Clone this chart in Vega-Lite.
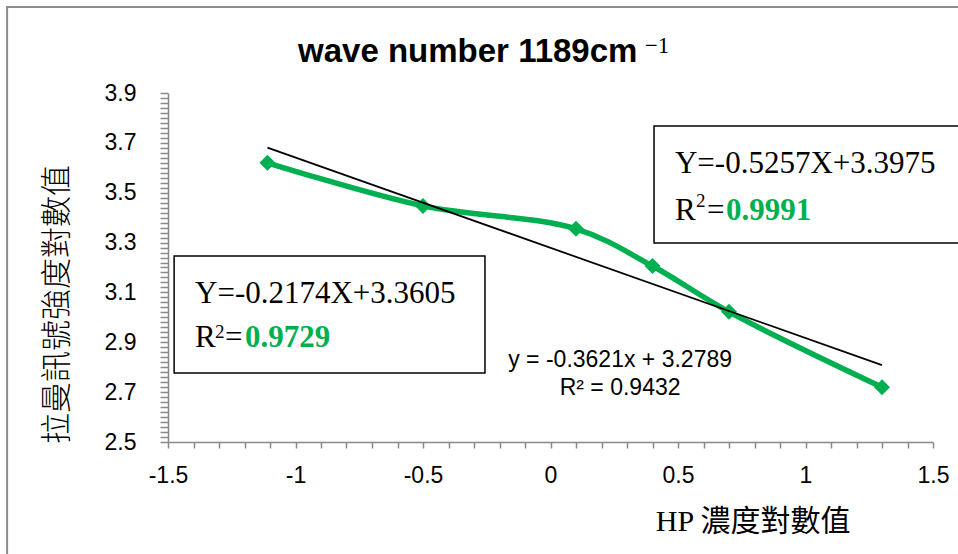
{
  "$schema": "https://vega.github.io/schema/vega-lite/v6.json",
  "width": 765,
  "height": 349,
  "autosize": {"type": "none"},
  "padding": {"left": 168, "top": 93, "right": 25, "bottom": 112},
  "background": "white",
  "config": {"view": {"stroke": null}},
  "datasets": {
    "pts": [
      {"x": -1.11, "y": 3.62},
      {"x": -0.5, "y": 3.447},
      {"x": 0.1, "y": 3.355},
      {"x": 0.4, "y": 3.206},
      {"x": 0.7, "y": 3.022},
      {"x": 1.3, "y": 2.72}
    ],
    "trend": [
      {"x": -1.11, "y": 3.6808},
      {"x": 1.3, "y": 2.8082}
    ],
    "frame": [
      {"x": -2.131, "x2": 2.2, "y": 4.245, "y2": 1.5}
    ],
    "boxes": [
      {"x": -1.476, "x2": -0.257, "y": 3.246, "y2": 2.777},
      {"x": 0.406, "x2": 1.7, "y": 3.768, "y2": 3.298}
    ],
    "ann": [
      {"x": -0.99, "y": 4.024, "text": "wave number 1189cm", "kind": "title"},
      {"x": 0.37, "y": 4.06, "text": "−1", "kind": "tsup"},
      {"x": 0.488, "y": 3.579, "text": "Y=-0.5257X+3.3975", "kind": "eq"},
      {"x": 0.488, "y": 3.391, "text": "R", "kind": "eq"},
      {"x": 0.571, "y": 3.443, "text": "2", "kind": "sup"},
      {"x": 0.614, "y": 3.391, "text": "=", "kind": "eq"},
      {"x": 0.688, "y": 3.391, "text": "0.9991", "kind": "grn"},
      {"x": -1.394, "y": 3.058, "text": "Y=-0.2174X+3.3605", "kind": "eq"},
      {"x": -1.394, "y": 2.881, "text": "R", "kind": "eq"},
      {"x": -1.316, "y": 2.917, "text": "2", "kind": "sup"},
      {"x": -1.276, "y": 2.881, "text": "=", "kind": "eq"},
      {"x": -1.198, "y": 2.881, "text": "0.9729", "kind": "grn"},
      {"x": 0.273, "y": 2.801, "text": "y = -0.3621x + 3.2789", "kind": "mid"},
      {"x": 0.273, "y": 2.689, "text": "R² = 0.9432", "kind": "mid"}
    ]
  },
  "encoding": {
    "x": {
      "field": "x",
      "type": "quantitative",
      "scale": {"domain": [-1.5, 1.5], "nice": false, "zero": false},
      "axis": {
        "title": "HP 濃度對數值",
        "titleFont": "Liberation Serif, Noto Sans CJK TC",
        "titleFontSize": 30,
        "titleFontWeight": "normal",
        "titleColor": "black",
        "titleX": 682,
        "titleY": 88,
        "titleAlign": "right",
        "titleBaseline": "alphabetic",
        "values": [-1.5, -1.4, -1.3, -1.2, -1.1, -1, -0.9, -0.8, -0.7, -0.6, -0.5, -0.4, -0.3, -0.2, -0.1, 0, 0.1, 0.2, 0.3, 0.4, 0.5, 0.6, 0.7, 0.8, 0.9, 1, 1.1, 1.2, 1.3, 1.4, 1.5],
        "labelExpr": "abs(datum.value * 2 - round(datum.value * 2)) < 0.01 ? '' + datum.value : ''",
        "labelFont": "Liberation Sans",
        "labelFontSize": 23,
        "labelColor": "black",
        "labelPadding": 16,
        "labelOverlap": false,
        "labelBound": false,
        "labelFlush": false,
        "grid": false,
        "domainColor": "#898989",
        "domainWidth": 1.5,
        "tickColor": "#898989",
        "tickWidth": 1.5,
        "tickSize": 6
      }
    },
    "y": {
      "field": "y",
      "type": "quantitative",
      "scale": {"domain": [2.5, 3.9], "nice": false, "zero": false},
      "axis": {
        "title": "拉曼訊號強度對數值",
        "titleFont": "Noto Sans CJK TC",
        "titleFontSize": 31,
        "titleFontWeight": 300,
        "titleColor": "black",
        "titleX": -111,
        "titleY": 211,
        "titleAlign": "center",
        "titleBaseline": "middle",
        "titleAngle": -90,
        "values": [2.5, 2.52, 2.54, 2.56, 2.58, 2.6, 2.62, 2.64, 2.66, 2.68, 2.7, 2.72, 2.74, 2.76, 2.78, 2.8, 2.82, 2.84, 2.86, 2.88, 2.9, 2.92, 2.94, 2.96, 2.98, 3, 3.02, 3.04, 3.06, 3.08, 3.1, 3.12, 3.14, 3.16, 3.18, 3.2, 3.22, 3.24, 3.26, 3.28, 3.3, 3.32, 3.34, 3.36, 3.38, 3.4, 3.42, 3.44, 3.46, 3.48, 3.5, 3.52, 3.54, 3.56, 3.58, 3.6, 3.62, 3.64, 3.66, 3.68, 3.7, 3.72, 3.74, 3.76, 3.78, 3.8, 3.82, 3.84, 3.86, 3.88, 3.9],
        "labelExpr": "abs((datum.value - 2.5) * 5 - round((datum.value - 2.5) * 5)) < 0.01 ? format(datum.value, '.1f') : ''",
        "labelFont": "Liberation Sans",
        "labelFontSize": 23,
        "labelColor": "black",
        "labelPadding": 24,
        "labelOverlap": false,
        "labelBound": false,
        "labelFlush": false,
        "grid": false,
        "domainColor": "#898989",
        "domainWidth": 1.5,
        "tickColor": "#898989",
        "tickWidth": 1.5,
        "tickSize": 8
      }
    }
  },
  "layer": [
    {
      "data": {"name": "frame"},
      "mark": {"type": "rect", "fill": "transparent", "stroke": "#8c8c8c", "strokeWidth": 2, "clip": false},
      "encoding": {"x2": {"field": "x2"}, "y2": {"field": "y2"}}
    },
    {
      "data": {"name": "boxes"},
      "mark": {"type": "rect", "fill": "transparent", "stroke": "black", "strokeWidth": 1.5, "clip": false},
      "encoding": {"x2": {"field": "x2"}, "y2": {"field": "y2"}}
    },
    {
      "data": {"name": "pts"},
      "mark": {"type": "line", "color": "#00b050", "strokeWidth": 5.5, "interpolate": "catmull-rom"},
      "encoding": {}
    },
    {
      "data": {"name": "pts"},
      "mark": {"type": "point", "shape": "diamond", "filled": true, "color": "#00b050", "size": 256, "opacity": 1},
      "encoding": {}
    },
    {
      "data": {"name": "trend"},
      "mark": {"type": "line", "color": "black", "strokeWidth": 1.75},
      "encoding": {}
    },
    {
      "data": {"name": "ann"},
      "transform": [{"filter": "datum.kind == 'title'"}],
      "mark": {"type": "text", "font": "Liberation Sans", "fontSize": 33, "fontWeight": "bold", "color": "black", "align": "left", "baseline": "alphabetic", "clip": false},
      "encoding": {"text": {"field": "text"}}
    },
    {
      "data": {"name": "ann"},
      "transform": [{"filter": "datum.kind == 'eq'"}],
      "mark": {"type": "text", "font": "Liberation Serif", "fontSize": 31, "color": "black", "align": "left", "baseline": "alphabetic", "clip": false},
      "encoding": {"text": {"field": "text"}}
    },
    {
      "data": {"name": "ann"},
      "transform": [{"filter": "datum.kind == 'sup'"}],
      "mark": {"type": "text", "font": "Liberation Serif", "fontSize": 19, "color": "black", "align": "left", "baseline": "alphabetic", "clip": false},
      "encoding": {"text": {"field": "text"}}
    },
    {
      "data": {"name": "ann"},
      "transform": [{"filter": "datum.kind == 'grn'"}],
      "mark": {"type": "text", "font": "Liberation Serif", "fontSize": 31, "fontWeight": "bold", "color": "#00b050", "align": "left", "baseline": "alphabetic", "clip": false},
      "encoding": {"text": {"field": "text"}}
    },
    {
      "data": {"name": "ann"},
      "transform": [{"filter": "datum.kind == 'mid'"}],
      "mark": {"type": "text", "font": "Liberation Sans", "fontSize": 23, "color": "black", "align": "center", "baseline": "alphabetic", "clip": false},
      "encoding": {"text": {"field": "text"}}
    },
    {
      "data": {"name": "ann"},
      "transform": [{"filter": "datum.kind == 'tsup'"}],
      "mark": {"type": "text", "font": "Liberation Serif", "fontSize": 23, "color": "black", "align": "left", "baseline": "alphabetic", "clip": false},
      "encoding": {"text": {"field": "text"}}
    }
  ]
}
